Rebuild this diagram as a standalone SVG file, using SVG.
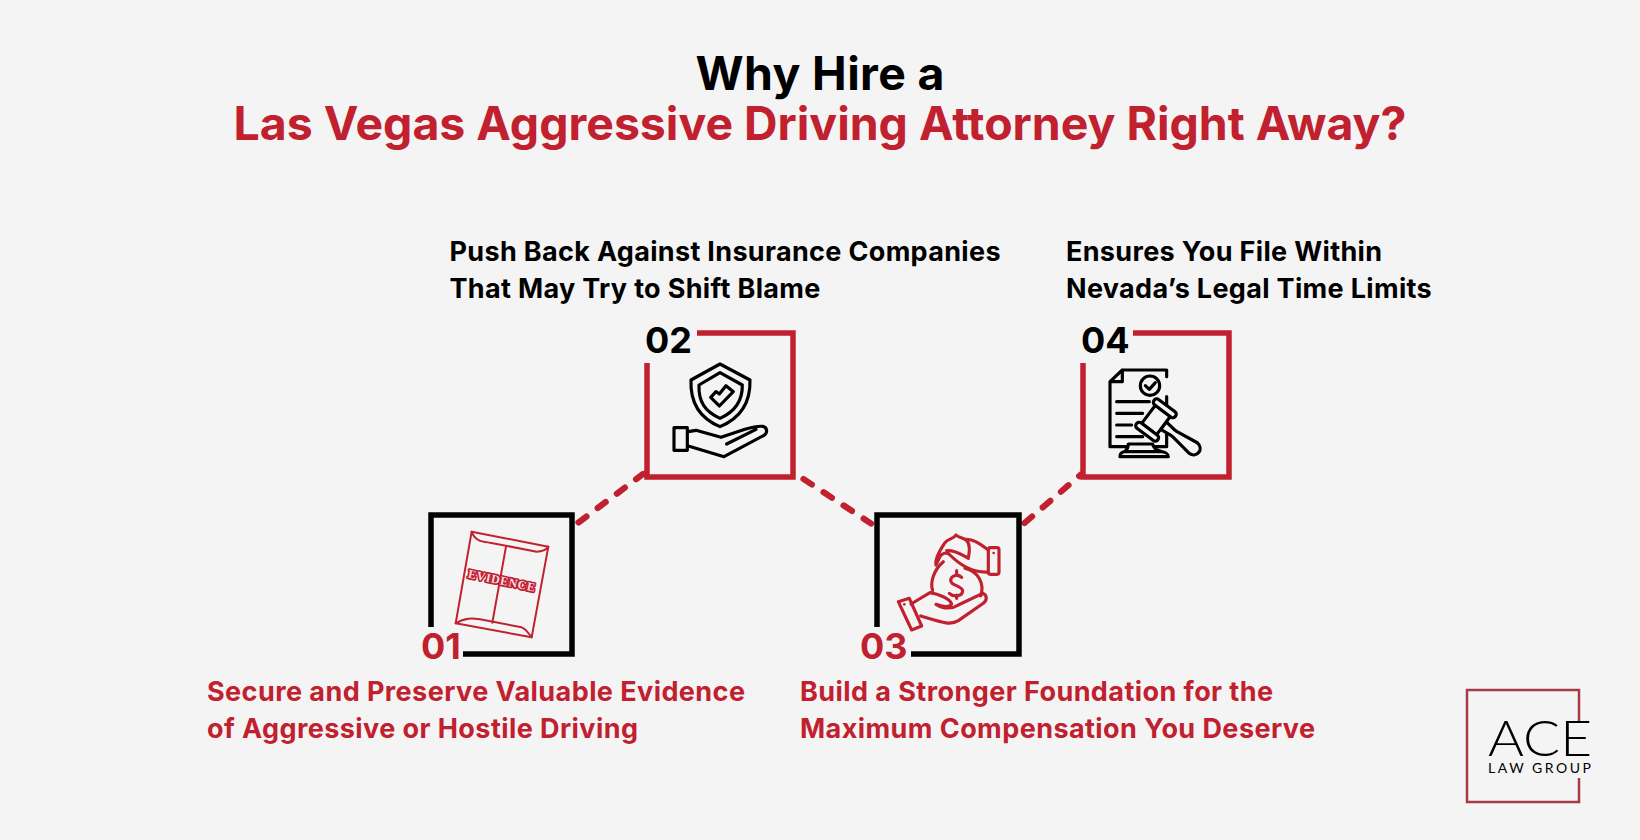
<svg xmlns="http://www.w3.org/2000/svg" width="1640" height="840" viewBox="0 0 1640 840">
<style>
text{font-family:Inter,"Liberation Sans",sans-serif;font-weight:700}
.t{font-size:46.4px;text-anchor:middle}
.h{font-size:27px;letter-spacing:.33px}
.hr{font-size:27px;letter-spacing:.43px}
.n{font-size:36px}
.k{fill:#000}.r{fill:#c1202f}
.bk,.br{fill:none;stroke-width:5.5}
.bk{stroke:#000}.br{stroke:#c1202f}
.ik,.ir{fill:none;stroke-width:9.5;stroke-linejoin:round;stroke-linecap:round}
.ik{stroke:#000}.ir{stroke:#c1202f}
.thin{stroke-width:6}
.fb{fill:#f4f4f4}
.dash{fill:none;stroke:#c1202f;stroke-width:6.2;stroke-linecap:round;stroke-dasharray:10 14}
</style>
<rect width="1640" height="840" fill="#f4f4f4"/>
<g id="title">
<text class="t k" x="820" y="90" textLength="249" lengthAdjust="spacing">Why Hire a</text>
<text class="t r" x="820" y="140">Las Vegas Aggressive Driving Attorney Right Away?</text>
</g>
<g id="connectors">
<path class="dash" d="M578.5 522.5L643 474"/>
<path class="dash" d="M803.500 479L871 523.500"/>
<path class="dash" d="M1024.500 523L1081 474.500"/>
</g>
<g id="node-01">
<path class="bk" d="M431 627V515H572V654H463"/>
<text class="n r" x="421" y="659">01</text>
<g transform="translate(410 500) scale(.3333)">
<path class="ir thin" d="M185 95L415 140L365 412L137 370Z"/>
<path class="ir thin" d="M185 95C195 125 220 125 240 128L380 155C395 155 408 150 415 140M137 370C165 352 190 355 210 358L335 382C350 388 355 400 365 412M288 140L247 368"/>
<g transform="rotate(12 275 242)">
<text x="275" y="254" text-anchor="middle" style="font-family:'Liberation Serif',serif;font-size:36px;paint-order:stroke;stroke:#c1202f;stroke-width:10px;stroke-linejoin:round" fill="#f6dfe2" textLength="204">EVIDENCE</text>
</g>
</g>
<text class="hr r" x="207" y="701">Secure and Preserve Valuable Evidence</text>
<text class="hr r" x="207" y="738">of Aggressive or Hostile Driving</text>
</g>
<g id="node-02">
<path class="br" d="M647 363V477H793V333H697"/>
<text class="n k" x="645" y="353">02</text>
<g transform="translate(620 320) scale(.3333)">
<path class="ik" d="M300 132L390 180C392 250 360 295 300 320C240 295 210 250 213 180Z"/>
<path class="ik" d="M300 158L367 195C368 245 345 275 300 295C255 275 235 245 237 195Z"/>
<path class="ik" d="M272 232L298 258L340 215L318 197L298 222L288 215Z"/>
<rect class="ik" x="162" y="323" width="40" height="68"/>
<path class="ik" d="M205 335L228 331L303 352L375 328C395 322 415 318 428 319C442 322 444 338 432 346L312 410L205 378M320 372L408 328"/>
</g>
<text class="h k" x="449.500" y="260.500">Push Back Against Insurance Companies</text>
<text class="h k" x="449.500" y="297.500">That May Try to Shift Blame</text>
</g>
<g id="node-03">
<path class="bk" d="M877 627V515H1019V654H911"/>
<text class="n r" x="860" y="659">03</text>
<g transform="translate(850 500) scale(.3333)">
<rect class="ir" x="415" y="143" width="32" height="80" rx="6"/>
<circle cx="431" cy="159" r="4" fill="#c1202f"/>
<path class="ir" d="M415 150C395 135 370 115 345 118M415 216C385 218 345 210 300 165C290 155 275 160 270 170L258 195C255 180 270 150 285 128C295 115 310 118 318 105C328 115 340 112 350 122C358 130 360 150 355 175C340 168 320 150 290 152"/>
<path class="ir" d="M280 185C250 210 240 250 248 272M345 205C385 215 405 250 392 288"/>
<path class="ir" d="M335 232C325 222 305 225 302 240C300 258 335 255 338 272C338 290 310 292 298 280M320 212V225M320 285V295"/>
<path class="ir" d="M145 305L178 295L215 378L185 390Z"/>
<circle cx="163" cy="313" r="4" fill="#c1202f"/>
<path class="ir" d="M183 312L240 278C265 282 300 295 305 312C300 322 280 322 258 313C285 330 310 325 325 315L398 280C412 285 412 300 400 310L325 362C300 378 270 365 212 348"/>
</g>
<text class="hr r" x="800" y="701">Build a Stronger Foundation for the</text>
<text class="hr r" x="800" y="738">Maximum Compensation You Deserve</text>
</g>
<g id="node-04">
<path class="br" d="M1083 363V477H1229V333H1133"/>
<text class="n k" x="1081" y="353">04</text>
<g transform="translate(1070 320) scale(.3333)">
<path class="ik" d="M157 150H290V170M290 230V380H120V185L157 150V185H120"/>
<circle class="ik" cx="240" cy="197" r="29"/>
<path class="ik" d="M226 197L238 208L256 188M140 245H238M140 280H218M140 315H185M140 350H218"/>
<g transform="translate(258 300) rotate(37)">
<path class="ik fb" d="M28 -14L62 -10H70L140 -20C168 -18 168 18 140 20L70 10H62L28 14Z"/>
<rect class="ik fb" x="-28" y="-34" width="56" height="68"/>
<rect class="ik fb" x="-40" y="-54" width="80" height="20" rx="9"/>
<rect class="ik fb" x="-40" y="34" width="80" height="20" rx="9"/>
</g>
<path class="ik fb" d="M175 372H248C250 385 262 392 275 395H165C170 390 175 382 175 372ZM150 410H295C295 402 285 396 275 395H165C155 396 150 402 150 410Z"/>
</g>
<text class="h k" x="1066" y="260.500">Ensures You File Within</text>
<text class="h k" x="1066" y="297.500">Nevada’s Legal Time Limits</text>
</g>
<g id="logo">
<path fill="none" stroke="#a83a48" stroke-width="2.500" d="M1579 722V690H1467V802H1579V778"/>
<text x="1488" y="756" textLength="104" lengthAdjust="spacingAndGlyphs" style="font-family:Lato,sans-serif;font-weight:300;font-size:50px" fill="#000">ACE</text>
<text x="1488" y="773" textLength="103" lengthAdjust="spacing" style="font-family:Lato,sans-serif;font-weight:400;font-size:14px" fill="#000">LAW GROUP</text>
</g>
</svg>
